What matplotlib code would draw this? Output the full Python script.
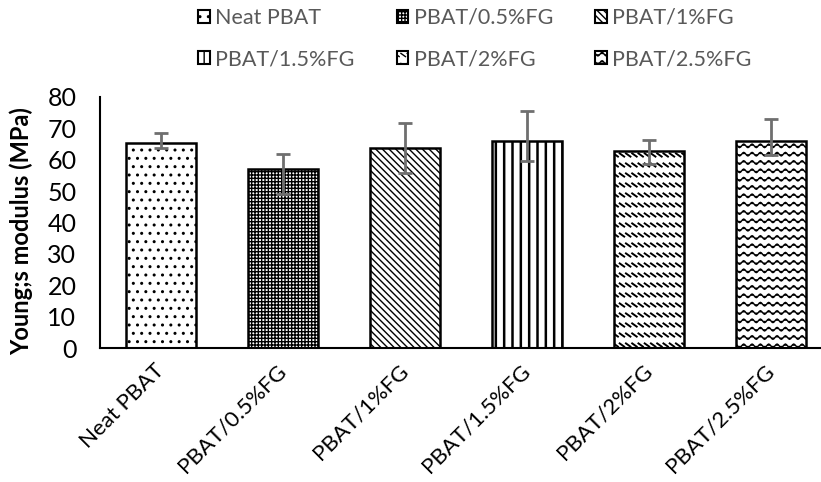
import warnings
import numpy as np
import matplotlib
matplotlib.use("Agg")
import matplotlib.pyplot as plt
import matplotlib.hatch as mhatch
from matplotlib.patches import Patch

warnings.filterwarnings("ignore")

# ---- data -------------------------------------------------------------
samples = ["Neat PBAT", "PBAT/0.5%FG", "PBAT/1%FG", "PBAT/1.5%FG", "PBAT/2%FG", "PBAT/2.5%FG"]
modulus = [65.4, 57.0, 63.8, 65.9, 62.7, 65.9]
err_up = [3.2, 4.8, 8.0, 9.7, 3.6, 7.2]
err_down = [1.7, 8.0, 8.1, 6.3, 4.2, 4.4]


# ---- extra fill patterns (wavy lines and rows of short dashes) --------
class WaveHatch(mhatch.HatchPatternBase):
    n_seg = 96
    periods = 12

    def __init__(self, hatch, density):
        self.num_lines = int(hatch.count("~") * density)
        self.num_vertices = self.num_lines * (self.n_seg + 1)

    def set_vertices_and_codes(self, vertices, codes):
        x = np.linspace(0.0, 1.0, self.n_seg + 1)
        step = 1.0 / self.num_lines
        for k in range(self.num_lines):
            y0 = (k + 0.5) * step
            sl = slice(k * (self.n_seg + 1), (k + 1) * (self.n_seg + 1))
            vertices[sl, 0] = x
            vertices[sl, 1] = y0 + 0.018 * np.sin(2 * np.pi * self.periods * x)
            codes[sl] = mhatch.Path.LINETO
            codes[k * (self.n_seg + 1)] = mhatch.Path.MOVETO


class DashRowHatch(mhatch.HatchPatternBase):
    per_row = 16

    def __init__(self, hatch, density):
        self.rows = int(hatch.count(":") * 10)
        self.num_vertices = self.rows * self.per_row * 2

    def set_vertices_and_codes(self, vertices, codes):
        i = 0
        for r in range(self.rows):
            y = (r + 0.5) / self.rows
            for c in range(self.per_row):
                x = (c + 0.15) / self.per_row
                vertices[i] = (x, y + 0.016)
                vertices[i + 1] = (x + 0.045, y - 0.016)
                codes[i] = mhatch.Path.MOVETO
                codes[i + 1] = mhatch.Path.LINETO
                i += 2


mhatch._hatch_types.extend([WaveHatch, DashRowHatch])

hatches = ["..", "+++++", "\\\\\\\\\\", "||", ":", "~~"]

# ---- figure -----------------------------------------------------------
font = "Lato"
plt.rcParams["font.family"] = [font, "DejaVu Sans"]
plt.rcParams["hatch.linewidth"] = 1.0

fig = plt.figure(figsize=(8.21, 4.82), dpi=100)
W, H = 821, 482
ax = fig.add_axes([100 / W, 1 - 348 / H, 721 / W, 251 / H])

x = np.arange(len(samples))
bars = ax.bar(x, modulus, width=0.574, color="white", edgecolor="black",
              linewidth=1.8, zorder=2)
for b, h in zip(bars, hatches):
    b.set_hatch(h)
    if h == "||" and hasattr(b, "set_hatch_linewidth"):
        b.set_hatch_linewidth(1.8)
    if h == ":" and hasattr(b, "set_hatch_linewidth"):
        b.set_hatch_linewidth(1.4)

ax.errorbar(x, modulus, yerr=[err_down, err_up], fmt="none", ecolor="#6f6f6f",
            elinewidth=2.0, capsize=5, capthick=2.0, zorder=3)

ax.set_ylim(0, 80)
ax.set_xlim(-0.5, -0.5 + 721 / 122)
ax.set_yticks(range(0, 81, 10))
ax.tick_params(axis="y", length=0, pad=17, labelsize=18, labelcolor="black")
ax.tick_params(axis="x", length=0, pad=14)
ax.set_xticks(x)
ax.set_xticklabels(samples, rotation=45, ha="right", va="center",
                   rotation_mode="anchor", fontsize=16)

for s in ["top", "right"]:
    ax.spines[s].set_visible(False)
ax.spines["left"].set_linewidth(1.5)
ax.spines["bottom"].set_linewidth(1.5)
ax.spines["left"].set_color("black")
ax.spines["bottom"].set_color("black")

ax.set_ylabel("Young;s modulus (MPa)", fontsize=17, fontweight="bold")
ax.yaxis.set_label_coords(-67 / 721, 0.465)

# ---- legend, laid out row by row -------------------------------------
handles = [Patch(facecolor="white", edgecolor="black", linewidth=1.5, hatch=h)
           for h in hatches]
order = [0, 3, 1, 4, 2, 5]
leg = fig.legend([handles[i] for i in order], [samples[i] for i in order],
                 ncol=3, loc="upper left",
                 bbox_to_anchor=(198 / W, 1 - 8 / H), frameon=False,
                 fontsize=15.5, handlelength=0.55, handleheight=0.55,
                 handletextpad=0.25, columnspacing=1.95, labelspacing=1.0,
                 borderpad=0, borderaxespad=0)
for t in leg.get_texts():
    t.set_color("#595959")

fig.savefig("out.png", dpi=100)
